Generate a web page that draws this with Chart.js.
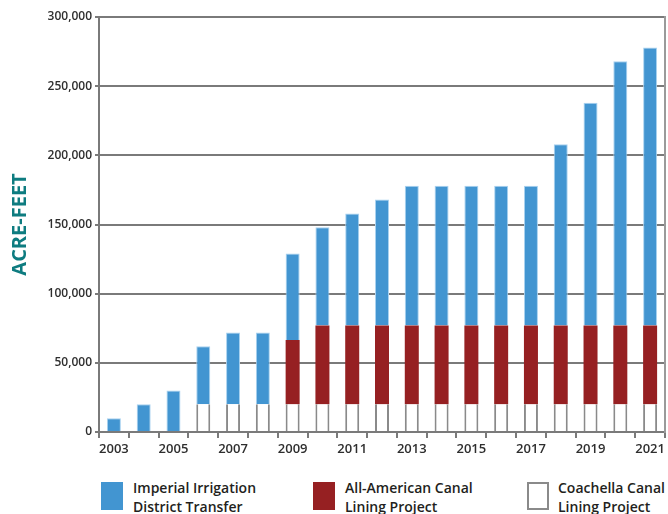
<!DOCTYPE html>
<html>
<head>
<meta charset="utf-8">
<script src="https://cdn.jsdelivr.net/npm/chart.js@4.4.0/dist/chart.umd.min.js"></script>
<style>
  body { margin: 0; background: #fff; }
  #wrap { position: relative; width: 668px; height: 514px; overflow: hidden; }
  #legend { position: absolute; top: 480px; left: 0; width: 668px; font-family: "Open Sans", sans-serif; font-weight: 600; font-size: 14px; line-height: 19px; color: #231f20; }
  .item { position: absolute; top: 0; }
  .box { position: absolute; top: 2px; left: 0; width: 22px; height: 28px; box-sizing: border-box; }
  .txt { position: absolute; top: -2px; white-space: nowrap; }
</style>
</head>
<body>
<div id="wrap">
  <canvas id="myChart" width="668" height="460"></canvas>
  <div id="legend"></div>
</div>
<script>
// years along the bottom
var years = ["2003","2004","2005","2006","2007","2008","2009","2010","2011","2012",
  "2013","2014","2015","2016","2017","2018","2019","2020","2021"];

// acre-feet per year
var coachella = [0, 0, 0, 20000, 20000, 20000, 20000, 20000, 20000, 20000,
  20000, 20000, 20000, 20000, 20000, 20000, 20000, 20000, 20000];
var allAmerican = [0, 0, 0, 0, 0, 0, 46500, 57000, 57000, 57000,
  57000, 57000, 57000, 57000, 57000, 57000, 57000, 57000, 57000];
var imperial = [10000, 20000, 30000, 42000, 52000, 52000, 62500, 71000, 81000, 91000,
  101000, 101000, 101000, 101000, 101000, 131000, 161000, 191000, 201000];

var yTicks = [0, 50000, 100000, 150000, 200000, 250000, 300000];

var legendItems = [
  { lines: ["Imperial Irrigation", "District Transfer"], fill: "#4295d1", border: "#4295d1", x: 101, tx: 133 },
  { lines: ["All-American Canal", "Lining Project"], fill: "#962022", border: "#962022", x: 313, tx: 345 },
  { lines: ["Coachella Canal", "Lining Project"], fill: "#ffffff", border: "#8a8a8a", x: 527, tx: 558 }
];

var gray = "#7a7a7a";
var tickFont = { family: "'Open Sans', sans-serif", size: 12, weight: "600" };

var ctx = document.getElementById("myChart").getContext("2d");
var chart = new Chart(ctx, {
  type: "bar",
  data: {
    labels: years,
    datasets: [
      { label: "Coachella Canal Lining Project", data: coachella, backgroundColor: "#ffffff",
        borderColor: "#8a8a8a", borderWidth: { left: 2, right: 2, top: 0, bottom: 0 } },
      { label: "All-American Canal Lining Project", data: allAmerican, backgroundColor: "#962022",
        borderWidth: 0 },
      { label: "Imperial Irrigation District Transfer", data: imperial, backgroundColor: "#4295d1",
        borderColor: "#a9d2f0", borderWidth: 1 }
    ]
  },
  options: {
    animation: false,
    responsive: false,
    layout: { padding: { top: 17, right: 1, left: 0, bottom: 0 } },
    datasets: { bar: { categoryPercentage: 1, barPercentage: 0.47 } },
    plugins: { legend: { display: false }, tooltip: { enabled: false } },
    scales: {
      x: {
        stacked: true,
        offset: true,
        grid: { offset: true, drawOnChartArea: false, drawTicks: true, tickLength: 6, color: gray, lineWidth: 2 },
        border: { display: true, color: gray, width: 2 },
        ticks: {
          autoSkip: false, maxRotation: 0, padding: 3, color: "#2e2e2e",
          font: { family: "'Open Sans', sans-serif", size: 13, weight: "600" },
          callback: function(v, i) { return i % 2 === 0 ? years[i] : ""; }
        },
        afterFit: function(s) { s.height = 28; }
      },
      y: {
        stacked: true,
        min: 0, max: 300000,
        afterBuildTicks: function(s) { s.ticks = yTicks.map(function(v) { return { value: v }; }); },
        grid: { color: gray, lineWidth: 2, drawTicks: true, tickLength: 4 },
        border: { display: true, color: gray, width: 2 },
        ticks: {
          padding: 3, color: "#2e2e2e", font: tickFont,
          callback: function(v) { return v.toLocaleString("en-US"); }
        },
        title: {
          display: true, text: "ACRE-FEET", color: "#0e7c80",
          font: { family: "'Open Sans', sans-serif", size: 20, weight: "700" },
          padding: { top: 8, bottom: 0 }
        },
        afterFit: function(s) { s.width = 99; }
      },
      yR: {
        position: "right",
        min: 0, max: 300000,
        grid: { display: false, drawTicks: false },
        border: { display: true, color: "#9a9a9a", width: 2 },
        ticks: { display: false },
        afterFit: function(s) { s.width = 0; }
      }
    }
  }
});

// legend below the chart, two-line labels
var lg = document.getElementById("legend");
legendItems.forEach(function(it) {
  var box = document.createElement("div");
  box.className = "box";
  box.style.left = it.x + "px";
  box.style.background = it.fill;
  box.style.border = "2px solid " + it.border;
  lg.appendChild(box);
  var t = document.createElement("div");
  t.className = "txt";
  t.style.left = it.tx + "px";
  t.innerHTML = it.lines.join("<br>");
  lg.appendChild(t);
});
</script>
</body>
</html>
